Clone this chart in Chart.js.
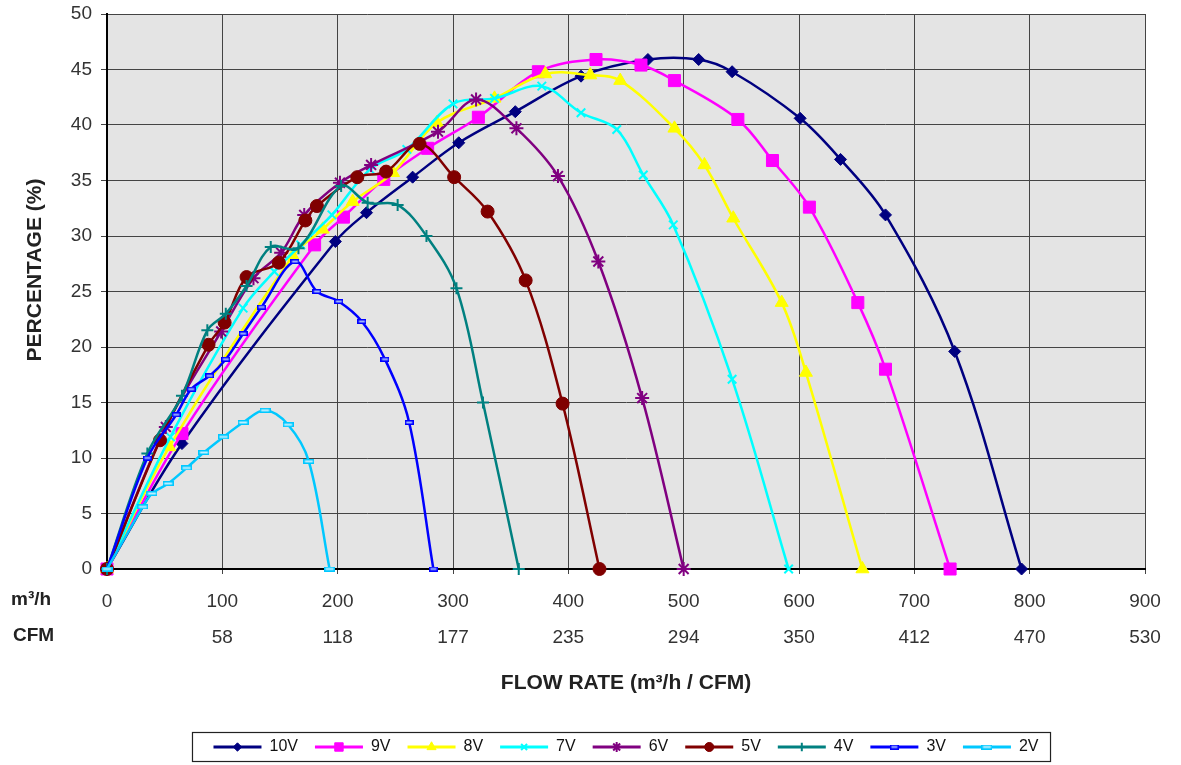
<!DOCTYPE html>
<html lang="en">
<head>
    <meta charset="UTF-8">
    <title>Flow rate / percentage curves</title>
    <script src="https://cdn.jsdelivr.net/npm/chart.js"></script>
    <style>
        html, body {
            margin: 0;
            padding: 0;
            background: #fff;
        }
        .chart-container {
            width: 1181px;
            height: 765px;
            position: relative;
        }
    </style>
</head>
<body>

    <div class="chart-container">
        <canvas id="fanChart"></canvas>
    </div>

    <script>
        // axis ticks
        const flowTicks = [0, 100, 200, 300, 400, 500, 600, 700, 800, 900];
        const cfmTicks = ["", "58", "118", "177", "235", "294", "350", "412", "470", "530"];
        const pctTicks = [0, 5, 10, 15, 20, 25, 30, 35, 40, 45, 50];

        const seriesNames = ["10V", "9V", "8V", "7V", "6V", "5V", "4V", "3V", "2V"];

        // flow (m3/h) and percentage per series
        const flow10V = [0, 65, 198, 225, 265, 305, 354, 411, 469, 513, 542, 601, 636, 675, 735, 793];
        const pct10V  = [0, 11.3, 29.5, 32.1, 35.3, 38.4, 41.2, 44.4, 45.9, 45.9, 44.8, 40.6, 36.9, 31.9, 19.6, 0];

        const flow9V = [0, 65, 180, 205, 240, 278, 322, 374, 424, 463, 492, 547, 577, 609, 651, 675, 731];
        const pct9V  = [0, 12.2, 29.2, 31.7, 35.1, 37.9, 40.7, 44.8, 45.9, 45.4, 44.0, 40.5, 36.8, 32.6, 24.0, 18.0, 0];

        const flow8V = [0, 54, 161, 187, 213, 248, 286, 336, 380, 419, 445, 492, 518, 543, 585, 606, 655];
        const pct8V  = [0, 11.0, 28.2, 30.6, 33.1, 35.7, 40.2, 42.4, 44.6, 44.5, 44.0, 39.7, 36.4, 31.6, 24.0, 17.7, 0];

        const flow7V = [0, 55, 118, 145, 168, 195, 228, 260, 300, 336, 377, 411, 442, 465, 491, 542, 591];
        const pct7V  = [0, 11.9, 23.5, 26.8, 29.2, 31.9, 36.0, 37.8, 41.9, 42.4, 43.5, 41.1, 39.6, 35.5, 31.0, 17.1, 0];

        const flow6V = [0, 51, 99, 127, 151, 171, 202, 229, 287, 320, 355, 391, 426, 464, 500];
        const pct6V  = [0, 12.8, 21.4, 26.2, 28.5, 31.9, 34.8, 36.4, 39.4, 42.3, 39.7, 35.4, 27.7, 15.4, 0];

        const flow5V = [0, 46, 88, 102, 121, 149, 172, 182, 217, 242, 271, 301, 330, 363, 395, 427];
        const pct5V  = [0, 11.6, 20.2, 22.2, 26.3, 27.6, 31.4, 32.7, 35.3, 35.8, 38.3, 35.3, 32.2, 26.0, 14.9, 0];

        const flow4V = [0, 35, 65, 87, 103, 121, 142, 166, 203, 226, 252, 277, 303, 326, 357];
        const pct4V  = [0, 10.4, 15.6, 21.5, 23.0, 25.5, 29.0, 28.9, 34.5, 33.0, 32.8, 30.0, 25.3, 15.0, 0];

        const flow3V = [0, 35, 60, 73, 89, 103, 118, 134, 163, 182, 201, 221, 241, 262, 283];
        const pct3V  = [0, 10.0, 13.9, 16.2, 17.4, 18.9, 21.2, 23.6, 27.7, 25.0, 24.1, 22.3, 18.9, 13.2, 0];

        const flow2V = [0, 31, 39, 53, 69, 84, 101, 118, 137, 157, 175, 193];
        const pct2V  = [0, 5.6, 6.8, 7.7, 9.1, 10.5, 11.9, 13.2, 14.3, 13.0, 9.7, 0];

        const flows = [flow10V, flow9V, flow8V, flow7V, flow6V, flow5V, flow4V, flow3V, flow2V];
        const pcts = [pct10V, pct9V, pct8V, pct7V, pct6V, pct5V, pct4V, pct3V, pct2V];

        // styling
        const lineColors = ["#000080", "#FF00FF", "#FFFF00", "#00FFFF", "#800080", "#800000", "#008080", "#0000FF", "#00C8FF"];
        const FONT = "'Liberation Sans', Arial, sans-serif";

        // small hollow dash marker used by 3V and 2V
        function dashMarker(stroke, fill, w, h) {
            const c = document.createElement("canvas");
            c.width = w;
            c.height = h;
            const g = c.getContext("2d");
            g.fillStyle = stroke;
            g.fillRect(0, 0, w, h);
            g.fillStyle = fill;
            g.fillRect(1.5, 1.5, w - 3, h - 3);
            return c;
        }

        const markers = [
            { style: "rectRot", radius: 6, border: 1 },
            { style: "rect", radius: 8.5, border: 1 },
            { style: "triangle", radius: 7.5, border: 1 },
            { style: "crossRot", radius: 6, border: 2 },
            { style: "star", radius: 7, border: 2 },
            { style: "circle", radius: 6.5, border: 1 },
            { style: "cross", radius: 6, border: 2 },
            { style: dashMarker("#0000FF", "#9db4ff", 9, 5), radius: 5, border: 0 },
            { style: dashMarker("#00C8FF", "#bfefff", 11, 5), radius: 5, border: 0 }
        ];

        const datasets = seriesNames.map((name, i) => ({
            label: name,
            data: flows[i].map((x, j) => ({ x: x, y: pcts[i][j] })),
            borderColor: lineColors[i],
            backgroundColor: lineColors[i],
            borderWidth: 2.5,
            tension: 0.35,
            pointStyle: markers[i].style,
            pointRadius: markers[i].radius,
            pointHoverRadius: markers[i].radius,
            pointBorderWidth: markers[i].border,
            clip: false,
            order: -i
        }));

        const decor = {
            id: "decor",
            beforeDraw(chart) {
                const { ctx, chartArea: a } = chart;
                ctx.save();
                ctx.fillStyle = "#E4E4E4";
                ctx.fillRect(a.left, a.top, a.right - a.left, a.bottom - a.top);
                ctx.restore();
            },
            afterDraw(chart) {
                const { ctx, chartArea: a } = chart;
                const legend = chart.legend;

                // legend markers on the line samples + frame
                if (legend && legend.legendHitBoxes && legend.legendHitBoxes.length) {
                    const boxes = legend.legendHitBoxes;
                    const boxW = legend.options.labels.boxWidth;
                    legend.legendItems.forEach((item, k) => {
                        const hb = boxes[k];
                        const i = item.datasetIndex;
                        const m = markers[i];
                        ctx.save();
                        ctx.fillStyle = lineColors[i];
                        ctx.strokeStyle = lineColors[i];
                        ctx.lineWidth = m.border;
                        if (Chart.helpers && Chart.helpers.drawPoint) {
                            Chart.helpers.drawPoint(ctx, {
                                pointStyle: m.style,
                                radius: m.radius * 0.7,
                                borderWidth: m.border,
                                rotation: 0
                            }, hb.left + boxW / 2, hb.top + hb.height / 2);
                        }
                        ctx.restore();
                    });
                    const first = boxes[0];
                    const last = boxes[boxes.length - 1];
                    const cy = first.top + first.height / 2;
                    ctx.save();
                    ctx.strokeStyle = "#222";
                    ctx.lineWidth = 1.2;
                    ctx.strokeRect(first.left - 21, cy - 14.5, last.left + last.width - first.left + 33, 29);
                    ctx.restore();
                }

                // y axis title
                ctx.save();
                ctx.fillStyle = "#222";
                ctx.font = "bold 21px " + FONT;
                ctx.textAlign = "center";
                ctx.textBaseline = "middle";
                ctx.translate(35, 270);
                ctx.rotate(-Math.PI / 2);
                ctx.fillText("PERCENTAGE (%)", 0, 0);
                ctx.restore();

                // row captions of the two x tick rows
                ctx.save();
                ctx.fillStyle = "#222";
                ctx.font = "bold 19px " + FONT;
                ctx.textAlign = "left";
                ctx.textBaseline = "middle";
                ctx.fillText("m\u00b3/h", 11, a.bottom + 31);
                ctx.fillText("CFM", 13, a.bottom + 67);
                ctx.restore();
            }
        };

        new Chart(document.getElementById("fanChart"), {
            type: "line",
            data: { datasets: datasets },
            plugins: [decor],
            options: {
                responsive: true,
                maintainAspectRatio: false,
                animation: false,
                layout: {
                    padding: { left: 0, right: 36, top: 14, bottom: 0 }
                },
                scales: {
                    x: {
                        type: "linear",
                        min: 0,
                        max: 900,
                        afterBuildTicks: (s) => { s.ticks = flowTicks.map(v => ({ value: v })); },
                        afterFit: (s) => { s.height = 153; },
                        ticks: {
                            autoSkip: false,
                            maxRotation: 0,
                            padding: 10,
                            color: "#333",
                            font: { family: FONT, size: 19, lineHeight: 1.9 },
                            callback: (v, i) => [String(flowTicks[i]), cfmTicks[i]]
                        },
                        grid: { color: "#444", lineWidth: 1, tickLength: 5 },
                        border: { color: "#000", width: 2 },
                        title: {
                            display: true,
                            text: "FLOW RATE (m\u00b3/h / CFM)",
                            color: "#222",
                            font: { family: FONT, size: 21, weight: "bold", lineHeight: 1.2 },
                            padding: { top: 10, bottom: 26 }
                        }
                    },
                    y: {
                        type: "linear",
                        min: 0,
                        max: 50,
                        afterBuildTicks: (s) => { s.ticks = pctTicks.map(v => ({ value: v })); },
                        afterFit: (s) => {
                            s.width = 107;
                            s.paddingTop = 0;
                            s.paddingBottom = 0;
                        },
                        ticks: {
                            padding: 9,
                            color: "#333",
                            font: { family: FONT, size: 19 }
                        },
                        grid: { color: "#444", lineWidth: 1, tickLength: 6 },
                        border: { color: "#000", width: 2 }
                    }
                },
                plugins: {
                    legend: {
                        position: "bottom",
                        fullSize: false,
                        labels: {
                            boxWidth: 48,
                            boxHeight: 3,
                            padding: 17,
                            color: "#111",
                            font: { family: FONT, size: 16 },
                            sort: (a, b) => a.datasetIndex - b.datasetIndex,
                            generateLabels: (chart) =>
                                Chart.defaults.plugins.legend.labels.generateLabels(chart).map(it => {
                                    it.lineWidth = 0;
                                    return it;
                                })
                        }
                    },
                    tooltip: { enabled: false }
                }
            }
        });
    </script>

</body>
</html>
